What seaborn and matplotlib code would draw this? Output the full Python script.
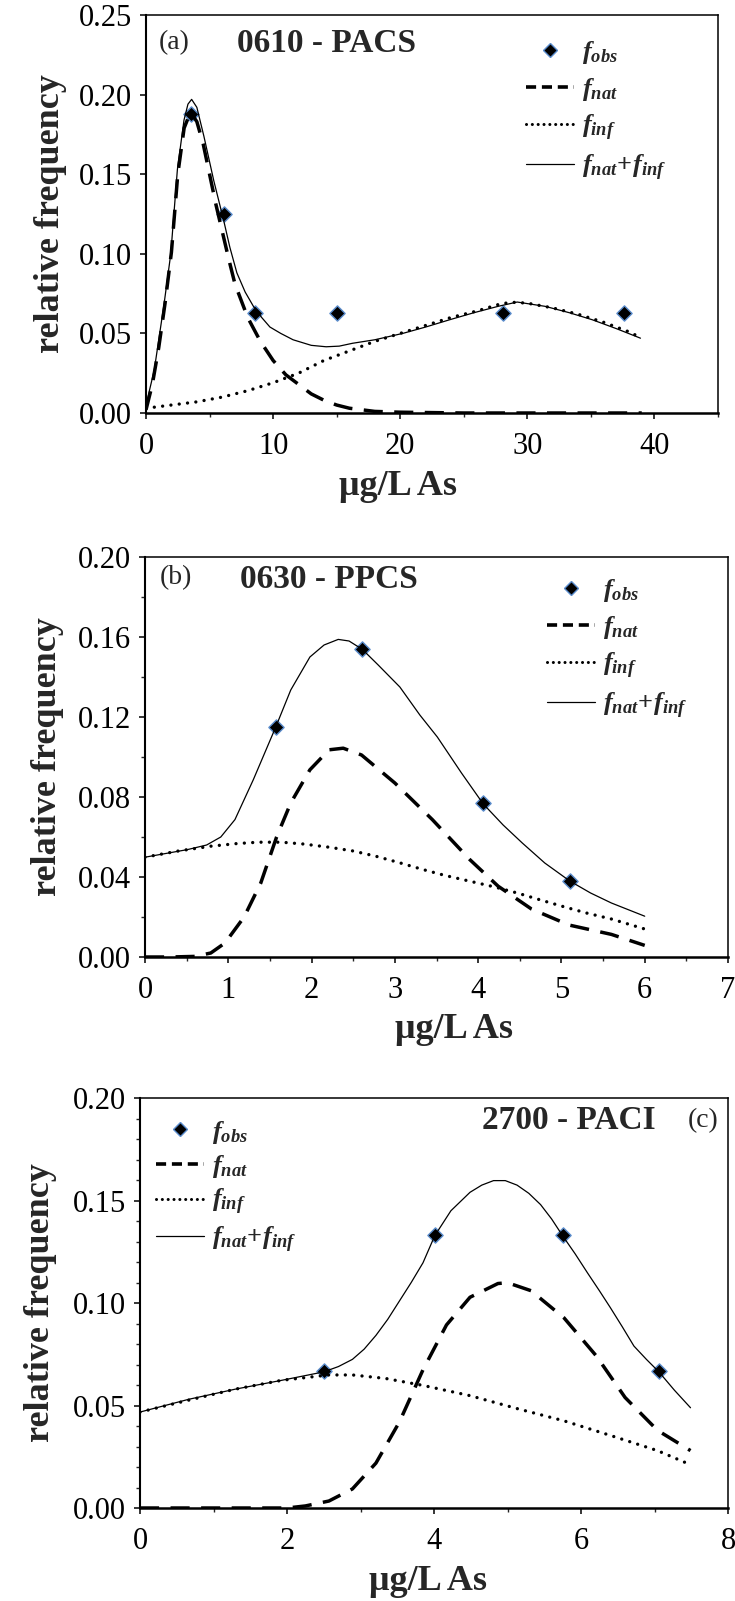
import matplotlib
matplotlib.use("Agg")
import matplotlib.pyplot as plt
import seaborn as sns
from matplotlib.ticker import MultipleLocator, FormatStrFormatter
from matplotlib.lines import Line2D

# ---------------- data ----------------
# Panel (a) 0610 - PACS
a_obs_x = [3.54, 6.11, 8.58, 15.0, 28.1, 37.6]
a_obs_y = [0.1875, 0.125, 0.0625, 0.0625, 0.0625, 0.0625]
a_nat_x = [0, 0.5, 1, 1.5, 2, 2.5, 3, 3.5, 4, 4.5, 5, 5.5, 6, 6.5, 7, 8, 9, 10, 11, 12,
           13, 14, 15, 16, 17, 18, 20, 25, 30, 35, 39]
a_nat_y = [0.002, 0.018, 0.041, 0.069, 0.101, 0.150, 0.179, 0.189, 0.183, 0.169, 0.150,
           0.131, 0.114, 0.097, 0.081, 0.060, 0.045, 0.033, 0.024, 0.018, 0.012, 0.008,
           0.005, 0.003, 0.002, 0.001, 0.0005, 0, 0, 0, 0]
a_inf_x = [0, 2, 4, 6, 8, 10, 12, 14, 16, 18, 20, 22, 24, 26, 28, 29, 30, 32, 34, 36, 38, 39]
a_inf_y = [0.003, 0.005, 0.007, 0.010, 0.014, 0.019, 0.025, 0.033, 0.039, 0.045, 0.050,
           0.055, 0.060, 0.064, 0.0688, 0.0695, 0.069, 0.066, 0.062, 0.057, 0.051, 0.047]
a_sum_x = [0, 0.65, 1.43, 1.95, 2.47, 2.99, 3.3, 3.59, 4.0, 4.55, 5.33, 6.11, 6.6, 7.15,
           7.8, 8.45, 9.1, 9.75, 10.6, 11.57, 13.0, 14.17, 15.2, 16.25, 18.0, 20.2, 22.0,
           23.9, 25.8, 27.7, 29.2, 31.4, 33.3, 35.1, 37.0, 38.9]
a_sum_y = [0.005, 0.027, 0.069, 0.100, 0.153, 0.184, 0.194, 0.197, 0.192, 0.174, 0.146,
           0.121, 0.104, 0.088, 0.076, 0.067, 0.060, 0.054, 0.050, 0.046, 0.0425, 0.0416,
           0.0420, 0.0438, 0.046, 0.050, 0.054, 0.0586, 0.063, 0.067, 0.0697, 0.067,
           0.063, 0.0586, 0.053, 0.047]

# Panel (b) 0630 - PPCS
b_obs_x = [1.57, 2.61, 4.06, 5.10]
b_obs_y = [0.115, 0.154, 0.077, 0.038]
b_nat_x = [0, 0.3, 0.6, 0.79, 0.96, 1.19, 1.39, 1.58, 1.75, 1.98, 2.21, 2.38, 2.60, 3.0,
           3.45, 3.9, 4.24, 4.64, 5.09, 5.6, 6.0]
b_nat_y = [0, 0, 0.0003, 0.002, 0.007, 0.020, 0.037, 0.060, 0.077, 0.0936, 0.1036, 0.1044,
           0.101, 0.087, 0.0687, 0.0487, 0.0354, 0.024, 0.016, 0.0113, 0.0058]
b_inf_x = [0, 0.4, 0.79, 1.1, 1.36, 1.64, 1.9, 2.21, 2.5, 2.77, 3.05, 3.34, 3.6, 3.90,
           4.2, 4.47, 4.75, 5.04, 5.3, 5.60, 6.0]
b_inf_y = [0.0499, 0.0530, 0.0554, 0.0567, 0.0574, 0.0574, 0.0565, 0.0549, 0.0530, 0.0504,
           0.0472, 0.0437, 0.0408, 0.0379, 0.0350, 0.0320, 0.0285, 0.0250, 0.0220, 0.0190,
           0.0140]
b_sum_x = [0, 0.51, 0.74, 0.91, 1.08, 1.30, 1.57, 1.75, 1.98, 2.15, 2.32, 2.45, 2.61, 2.8,
           3.06, 3.3, 3.51, 3.8, 4.06, 4.3, 4.53, 4.8, 5.10, 5.35, 5.60, 6.0]
b_sum_y = [0.0499, 0.0537, 0.056, 0.060, 0.0687, 0.0886, 0.115, 0.1335, 0.150, 0.156,
           0.1588, 0.158, 0.1538, 0.146, 0.135, 0.121, 0.110, 0.092, 0.0766, 0.066, 0.057,
           0.047, 0.038, 0.032, 0.027, 0.0204]

# Panel (c) 2700 - PACI
c_obs_x = [2.50, 4.01, 5.75, 7.06]
c_obs_y = [0.0667, 0.1333, 0.1333, 0.0667]
c_nat_x = [0, 0.5, 1, 1.5, 2.0, 2.25, 2.57, 2.89, 3.21, 3.53, 3.85, 4.17, 4.49, 4.87, 5.0,
           5.32, 5.77, 6.21, 6.60, 7.04, 7.49]
c_nat_y = [0, 0, 0, 0, 0, 0.001, 0.0034, 0.0093, 0.0219, 0.042, 0.0674, 0.0893, 0.1028,
           0.1095, 0.1099, 0.106, 0.0927, 0.0741, 0.0539, 0.0379, 0.028]
c_inf_x = [0, 0.66, 1.30, 1.93, 2.57, 2.89, 3.34, 3.85, 4.49, 5.13, 5.77, 6.40, 7.04, 7.49]
c_inf_y = [0.0468, 0.0526, 0.058, 0.0623, 0.0649, 0.0649, 0.0632, 0.0598, 0.0548, 0.0485,
           0.0425, 0.0354, 0.0280, 0.0211]
c_sum_x = [0, 0.66, 1.30, 1.93, 2.5, 2.7, 2.89, 3.05, 3.21, 3.37, 3.53, 3.69, 3.85, 4.01,
           4.23, 4.49, 4.65, 4.81, 4.97, 5.13, 5.29, 5.45, 5.6, 5.75, 5.92, 6.09, 6.25,
           6.40, 6.56, 6.72, 6.89, 7.06, 7.27, 7.49]
c_sum_y = [0.0468, 0.053, 0.058, 0.0623, 0.0664, 0.0690, 0.0725, 0.0775, 0.0842, 0.092,
           0.101, 0.110, 0.1196, 0.1328, 0.145, 0.154, 0.1575, 0.1597, 0.1597, 0.1575,
           0.1535, 0.148, 0.1410, 0.1328, 0.1240, 0.1146, 0.1060, 0.0977, 0.0885, 0.079,
           0.0725, 0.0664, 0.0575, 0.0489]

panel_titles = ["0610 - PACS", "0630 - PPCS", "2700 - PACI"]
panel_tags = ["(a)", "(b)", "(c)"]
legend_labels = [r"$f_{obs}$", r"$f_{nat}$", r"$f_{inf}$", r"$f_{nat}\!+\!f_{inf}$"]
x_label = "\u03bcg/L As"
y_label = "relative frequency"

# ---------------- style ----------------
sns.set_theme(style="ticks")
plt.rcParams["font.family"] = ["Liberation Serif", "DejaVu Serif"]
plt.rcParams["mathtext.fontset"] = "custom"
plt.rcParams["mathtext.it"] = "Liberation Serif:italic:bold"
plt.rcParams["mathtext.rm"] = "Liberation Serif:bold"
plt.rcParams["mathtext.bf"] = "Liberation Serif:bold"

W, H = 735, 1601
fig = plt.figure(figsize=(W / 100, H / 100), dpi=100)
fig.patch.set_facecolor("white")


def add_ax(left, right, top, bottom):
    return fig.add_axes([left / W, 1 - bottom / H, (right - left) / W, (bottom - top) / H])


DASH = (0, (5.5, 3.3))
DOT = (0, (0.01, 2.5))
MK_FACE = "black"
MK_EDGE = "#5a8ccc"


def draw_panel(ax, ox, oy, nx, ny, ix, iy, sx, sy):
    sns.scatterplot(x=ox, y=oy, ax=ax, marker="D", s=60, color=MK_FACE,
                    edgecolor=MK_EDGE, linewidth=1.0, zorder=2, legend=False)
    sns.lineplot(x=nx, y=ny, ax=ax, color="black", linewidth=2.5, linestyle=DASH,
                 zorder=3, legend=False)
    sns.lineplot(x=ix, y=iy, ax=ax, color="black", linewidth=2.4, linestyle=DOT,
                 dash_capstyle="round", zorder=3, legend=False)
    sns.lineplot(x=sx, y=sy, ax=ax, color="black", linewidth=0.9, zorder=4, legend=False)


def style_axes(ax, xlim, xmaj, xmin, ylim, ymaj, ymin):
    ax.set_xlim(*xlim)
    ax.set_ylim(*ylim)
    ax.xaxis.set_major_locator(MultipleLocator(xmaj))
    ax.yaxis.set_major_locator(MultipleLocator(ymaj))
    if xmin:
        ax.xaxis.set_minor_locator(MultipleLocator(xmin))
    if ymin:
        ax.yaxis.set_minor_locator(MultipleLocator(ymin))
    ax.yaxis.set_major_formatter(FormatStrFormatter("%.2f"))
    ax.xaxis.set_major_formatter(FormatStrFormatter("%d"))
    for sp in ax.spines.values():
        sp.set_visible(True)
        sp.set_linewidth(1.1)
        sp.set_color("black")
    ax.spines["bottom"].set_linewidth(1.8)
    ax.spines["left"].set_linewidth(1.5)
    ax.tick_params(axis="both", which="major", direction="out", length=4, width=1.1,
                   labelsize=22, colors="black", top=False, right=False)
    ax.tick_params(axis="both", which="minor", direction="out", length=3, width=1.0,
                   top=False, right=False)
    ax.tick_params(axis="x", which="major", pad=10)
    ax.tick_params(axis="y", which="major", pad=6)
    ax.set_facecolor("white")
    ax.grid(False)


def add_legend(ax, anchor, spacing=0.38):
    handles = [
        Line2D([], [], linestyle="none", marker="D", markersize=7.5,
               markerfacecolor=MK_FACE, markeredgecolor=MK_EDGE, markeredgewidth=1.0),
        Line2D([], [], color="black", linewidth=2.6, linestyle=(0, (2.8, 1.6))),
        Line2D([], [], color="black", linewidth=2.2, linestyle=(0, (0.01, 1.9)),
               dash_capstyle="round"),
        Line2D([], [], color="black", linewidth=0.9),
    ]
    ax.legend(handles, legend_labels, loc="upper left", bbox_to_anchor=anchor,
              borderaxespad=0, borderpad=0, frameon=False, fontsize=19,
              handlelength=1.8, handletextpad=0.3, labelspacing=spacing)


def labels(ax, xl_pos, yl_pos):
    ax.set_xlabel(x_label, fontsize=26, fontweight="bold")
    ax.set_ylabel(y_label, fontsize=26, fontweight="bold")
    ax.xaxis.set_label_coords(*xl_pos)
    ax.yaxis.set_label_coords(*yl_pos)
    ax.xaxis.label.set_va("center")
    ax.yaxis.label.set_va("center")


# ---------- panel (a)
ax1 = add_ax(146, 718, 15, 413)
draw_panel(ax1, a_obs_x, a_obs_y, a_nat_x, a_nat_y, a_inf_x, a_inf_y, a_sum_x, a_sum_y)
style_axes(ax1, (0, 45), 10, 5, (0, 0.25), 0.05, None)
add_legend(ax1, (0.665, 0.94))
labels(ax1, (0.44, -0.185), (-0.167, 0.5))
ax1.text(0.05, 0.93, panel_tags[0], transform=ax1.transAxes, ha="center", va="center",
         fontsize=20)
ax1.text(0.315, 0.928, panel_titles[0], transform=ax1.transAxes, ha="center", va="center",
         fontsize=24, fontweight="bold")

# ---------- panel (b)
ax2 = add_ax(145, 728, 557, 957)
draw_panel(ax2, b_obs_x, b_obs_y, b_nat_x, b_nat_y, b_inf_x, b_inf_y, b_sum_x, b_sum_y)
style_axes(ax2, (0, 7), 1, 0.5, (0, 0.20), 0.04, 0.02)
add_legend(ax2, (0.69, 0.95))
labels(ax2, (0.53, -0.18), (-0.168, 0.5))
ax2.text(0.053, 0.9475, panel_tags[1], transform=ax2.transAxes, ha="center", va="center",
         fontsize=20)
ax2.text(0.316, 0.945, panel_titles[1], transform=ax2.transAxes, ha="center", va="center",
         fontsize=24, fontweight="bold")

# ---------- panel (c)
ax3 = add_ax(140, 728, 1098, 1508)
draw_panel(ax3, c_obs_x, c_obs_y, c_nat_x, c_nat_y, c_inf_x, c_inf_y, c_sum_x, c_sum_y)
style_axes(ax3, (0, 8), 2, 1, (0, 0.20), 0.05, 0.01)
add_legend(ax3, (0.028, 0.95), 0.28)
labels(ax3, (0.49, -0.18), (-0.17, 0.5))
ax3.text(0.729, 0.944, panel_titles[2], transform=ax3.transAxes, ha="center", va="center",
         fontsize=24, fontweight="bold")
ax3.text(0.958, 0.946, panel_tags[2], transform=ax3.transAxes, ha="center", va="center",
         fontsize=20)

fig.savefig("out.png", dpi=100, facecolor="white")
